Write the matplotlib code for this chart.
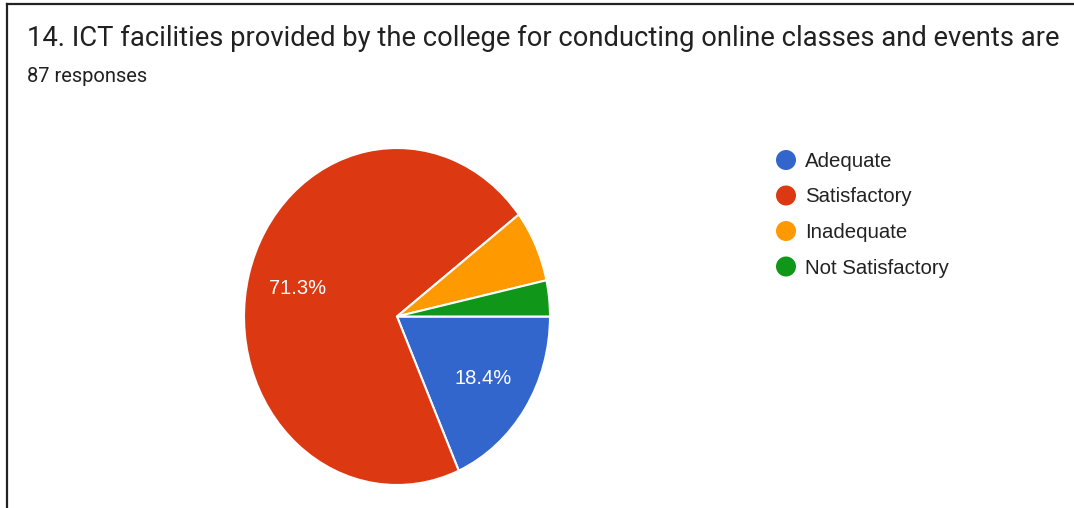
import matplotlib
matplotlib.use("Agg")
import matplotlib.pyplot as plt
from matplotlib.patches import Ellipse
from matplotlib.lines import Line2D

title = "14. ICT facilities provided by the college for conducting online classes and events are"
subtitle = "87 responses"
labels = ["Adequate", "Satisfactory", "Inadequate", "Not Satisfactory"]
counts = [16, 62, 6, 3]
colors = ["#3366cc", "#dc3912", "#ff9900", "#109618"]

W, H = 1074, 508
fig = plt.figure(figsize=(W/100, H/100), dpi=100)
fig.patch.set_facecolor("white")

# frame lines (top + left)
fig.add_artist(Line2D([7/W, 1], [1-4/H, 1-4/H], color="#222222", lw=1.6))
fig.add_artist(Line2D([7/W, 7/W], [0, 1-4/H], color="#222222", lw=1.6))

fig.text(27/W, 1-38/H, title, fontsize=19.7, family="Roboto", color="#212121", va="center")
fig.text(27/W, 1-77/H, subtitle, fontsize=14.5, family="Roboto", color="#212121", va="center")

# pie is slightly squashed in the screenshot: 306 px wide, 337 px tall
ax = fig.add_axes([244/W, (H-485)/H, 306/W, 337/H])
def pct(p):
    return f"{p:.1f}%" if p > 10 else ""
wedges, texts, autotexts = ax.pie(counts, colors=colors, startangle=0, counterclock=False,
                                  autopct=pct, pctdistance=0.67,
                                  wedgeprops=dict(edgecolor="white", linewidth=1.5),
                                  textprops=dict(color="white", fontsize=14.5, family="Liberation Sans"))
ax.set_aspect("auto")
ax.set_xlim(-1, 1)
ax.set_ylim(-1, 1)
ax.axis("off")

# legend
for i, (lab, c) in enumerate(zip(labels, colors)):
    y = 1 - (160 + i*35.5)/H
    fig.add_artist(Ellipse((786/W, y), 20/W, 20/H, facecolor=c, edgecolor="none", transform=fig.transFigure))
    fig.text(805/W, y - 1.5/H, lab, fontsize=14.7, family="Liberation Sans", color="#222222", va="center")

fig.savefig("out.png", dpi=100)
